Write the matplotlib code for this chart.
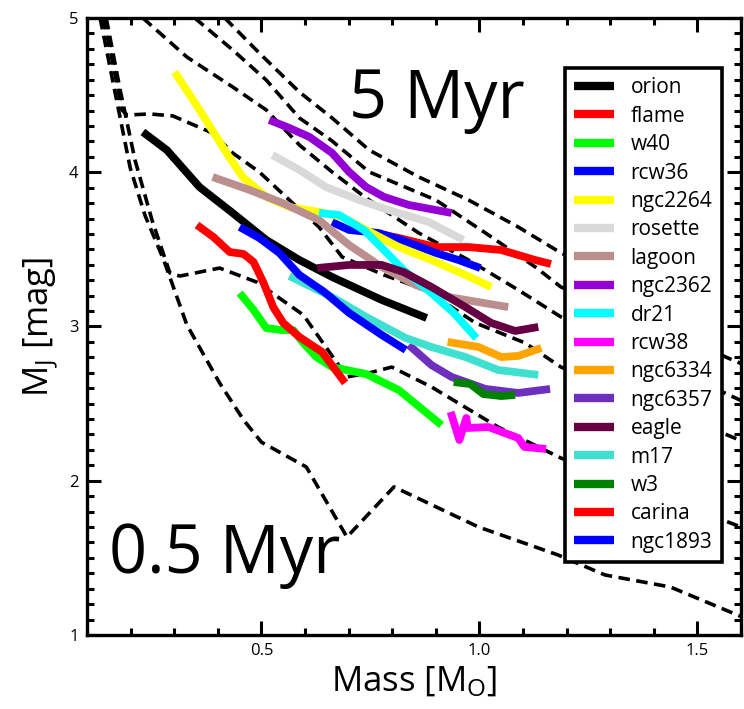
import matplotlib
matplotlib.use("Agg")
import matplotlib.pyplot as plt
from matplotlib.ticker import MultipleLocator

plt.rcParams['font.family'] = ['Open Sans', 'DejaVu Sans']
plt.rcParams['mathtext.fontset'] = 'custom'
plt.rcParams['mathtext.rm'] = 'Open Sans'
plt.rcParams['mathtext.it'] = 'Open Sans'

# ---- isochrones (dashed) ----
iso_a_x = [0.130, 0.153, 0.176, 0.199, 0.233, 0.276, 0.329, 0.404, 0.459, 0.500, 0.541, 0.603, 0.696, 0.804, 0.998, 1.180, 1.288, 1.438, 1.600]
iso_a_y = [5.00, 4.676, 4.352, 4.028, 3.72, 3.43, 3.01, 2.634, 2.394, 2.25, 2.186, 2.089, 1.635, 1.96, 1.70, 1.519, 1.389, 1.311, 1.12]

iso_b_x = [0.137, 0.160, 0.180, 0.192, 0.244, 0.297, 0.388, 0.434, 0.495, 0.564, 0.632, 0.685, 0.781, 0.877, 0.991, 1.105, 1.187, 1.600]
iso_b_y = [5.00, 4.695, 4.404, 4.371, 4.378, 4.365, 4.254, 4.125, 4.002, 3.82, 3.645, 3.451, 3.334, 3.237, 3.023, 2.893, 2.737, 2.26]

iso_c_x = [0.144, 0.176, 0.210, 0.249, 0.290, 0.313, 0.404, 0.489, 0.596, 0.696, 0.747, 0.799, 0.890, 1.043, 1.187, 1.600]
iso_c_y = [5.00, 4.533, 4.079, 3.69, 3.347, 3.327, 3.379, 3.288, 3.075, 2.673, 2.699, 2.737, 2.608, 2.348, 2.147, 1.70]

iso_d_x = [0.228, 0.329, 0.434, 0.511, 0.587, 0.662, 0.740, 0.861, 0.975, 1.089, 1.187, 1.600]
iso_d_y = [5.00, 4.747, 4.553, 4.404, 4.177, 4.002, 3.833, 3.606, 3.431, 3.237, 3.062, 2.52]

iso_e_x = [0.347, 0.434, 0.511, 0.587, 0.662, 0.747, 0.900, 1.014, 1.128, 1.187, 1.600]
iso_e_y = [5.00, 4.793, 4.598, 4.352, 4.203, 4.002, 3.820, 3.606, 3.386, 3.256, 2.76]

iso_f_x = [0.416, 0.495, 0.587, 0.662, 0.747, 0.861, 0.975, 1.089, 1.187, 1.450]
iso_f_y = [5.00, 4.773, 4.520, 4.352, 4.144, 3.969, 3.820, 3.645, 3.477, 3.15]

# ---- cluster sequences ----
orion_x = [0.228, 0.283, 0.358, 0.434, 0.511, 0.587, 0.662, 0.776, 0.879]
orion_y = [4.261, 4.144, 3.904, 3.736, 3.561, 3.431, 3.321, 3.172, 3.055]

flame_x = [0.735, 0.815, 0.900, 0.975, 1.050, 1.128, 1.164]
flame_y = [3.619, 3.574, 3.515, 3.515, 3.496, 3.431, 3.405]

w40_x = [0.450, 0.482, 0.511, 0.546, 0.573, 0.596, 0.626, 0.662, 0.740, 0.815, 0.913]
w40_y = [3.217, 3.107, 2.990, 2.977, 2.977, 2.893, 2.802, 2.737, 2.692, 2.588, 2.361]

rcw36_x = [0.662, 0.701, 0.769, 0.822, 0.900, 0.952, 1.002]
rcw36_y = [3.677, 3.626, 3.606, 3.561, 3.477, 3.431, 3.379]

ngc2264_x = [0.301, 0.358, 0.420, 0.457, 0.511, 0.564, 0.632, 0.685, 0.740, 0.815, 0.890, 0.968, 1.027]
ngc2264_y = [4.650, 4.404, 4.125, 3.969, 3.840, 3.775, 3.742, 3.710, 3.626, 3.515, 3.431, 3.334, 3.256]

rosette_x = [0.525, 0.587, 0.648, 0.724, 0.792, 0.884, 0.963]
rosette_y = [4.112, 4.015, 3.904, 3.820, 3.755, 3.677, 3.561]

lagoon_x = [0.388, 0.473, 0.548, 0.632, 0.701, 0.776, 0.854, 0.929, 1.066]
lagoon_y = [3.969, 3.885, 3.801, 3.690, 3.528, 3.386, 3.269, 3.191, 3.126]

ngc2362_x = [0.518, 0.564, 0.610, 0.662, 0.701, 0.740, 0.781, 0.838, 0.936]
ngc2362_y = [4.339, 4.287, 4.229, 4.125, 4.002, 3.904, 3.840, 3.788, 3.736]

dr21_x = [0.632, 0.678, 0.735, 0.781, 0.826, 0.895, 0.941, 0.993]
dr21_y = [3.736, 3.723, 3.626, 3.496, 3.366, 3.204, 3.088, 2.925]

rcw38_x = [0.934, 0.954, 0.970, 0.973, 1.021, 1.089, 1.103, 1.153]
rcw38_y = [2.446, 2.264, 2.407, 2.342, 2.348, 2.277, 2.219, 2.206]

ngc6334_x = [0.927, 0.998, 1.050, 1.089, 1.142]
ngc6334_y = [2.900, 2.867, 2.802, 2.809, 2.861]

ngc6357_x = [0.838, 0.890, 0.936, 1.014, 1.089, 1.162]
ngc6357_y = [2.880, 2.750, 2.673, 2.595, 2.569, 2.595]

eagle_x = [0.628, 0.701, 0.776, 0.826, 0.890, 0.968, 1.027, 1.082, 1.135]
eagle_y = [3.379, 3.399, 3.399, 3.353, 3.256, 3.126, 3.023, 2.971, 2.997]

m17_x = [0.564, 0.662, 0.740, 0.831, 0.890, 0.968, 1.043, 1.135]
m17_y = [3.327, 3.191, 3.062, 2.925, 2.867, 2.802, 2.718, 2.686]

w3_x = [0.941, 0.979, 1.009, 1.050, 1.082]
w3_y = [2.640, 2.627, 2.562, 2.549, 2.556]

carina_x = [0.352, 0.390, 0.427, 0.459, 0.482, 0.505, 0.527, 0.550, 0.587, 0.639, 0.692]
carina_y = [3.658, 3.580, 3.483, 3.470, 3.418, 3.282, 3.126, 3.023, 2.932, 2.835, 2.634]

ngc1893_x = [0.450, 0.495, 0.541, 0.587, 0.644, 0.701, 0.776, 0.831]
ngc1893_y = [3.645, 3.574, 3.477, 3.334, 3.224, 3.088, 2.945, 2.848]

names = ['orion', 'flame', 'w40', 'rcw36', 'ngc2264', 'rosette', 'lagoon', 'ngc2362',
         'dr21', 'rcw38', 'ngc6334', 'ngc6357', 'eagle', 'm17', 'w3', 'carina', 'ngc1893']
colors = ['#000000', '#ff0000', '#00ff00', '#0000ff', '#ffff00', '#d9d9d9', '#bc8f8f', '#9400d3',
          '#00ffff', '#ff00ff', '#ffa500', '#6e2fbf', '#650043', '#40e0d0', '#008000', '#ff0000', '#0000ff']
series = [(orion_x, orion_y), (flame_x, flame_y), (w40_x, w40_y), (rcw36_x, rcw36_y),
          (ngc2264_x, ngc2264_y), (rosette_x, rosette_y), (lagoon_x, lagoon_y),
          (ngc2362_x, ngc2362_y), (dr21_x, dr21_y), (rcw38_x, rcw38_y), (ngc6334_x, ngc6334_y),
          (ngc6357_x, ngc6357_y), (eagle_x, eagle_y), (m17_x, m17_y), (w3_x, w3_y),
          (carina_x, carina_y), (ngc1893_x, ngc1893_y)]
isochrones = [(iso_a_x, iso_a_y), (iso_b_x, iso_b_y), (iso_c_x, iso_c_y),
              (iso_d_x, iso_d_y), (iso_e_x, iso_e_y), (iso_f_x, iso_f_y)]

fig = plt.figure(figsize=(7.44, 7.09), dpi=100)
ax = fig.add_axes([0.117, 0.1044, 0.879, 0.8702])

for ix, iy in isochrones:
    ax.plot(ix, iy, color='black', lw=2.6, linestyle=(0, (3.2, 1.8)), zorder=2)

for (sx, sy), c, n in zip(series, colors, names):
    ax.plot(sx, sy, color=c, lw=5.6, label=n, solid_capstyle='butt', solid_joinstyle='round', zorder=3)

ax.set_xlim(0.1, 1.6)
ax.set_ylim(1, 5)
ax.xaxis.set_major_locator(MultipleLocator(0.5))
ax.xaxis.set_minor_locator(MultipleLocator(0.1))
ax.yaxis.set_major_locator(MultipleLocator(1))
ax.yaxis.set_minor_locator(MultipleLocator(0.1))
ax.set_xticks([0.5, 1.0, 1.5])
ax.set_xticklabels(['0.5', '1.0', '1.5'])
ax.tick_params(which='both', direction='in', top=True, right=True, width=2.2, labelsize=12, pad=6)
ax.tick_params(which='major', length=10)
ax.tick_params(which='minor', length=5)
for s in ax.spines.values():
    s.set_linewidth(2.4)

ax.set_xlabel(r'Mass [M$_{\mathrm{O}}$]', fontsize=25, labelpad=4)
ax.set_ylabel(r'M$_{\mathrm{J}}$ [mag]', fontsize=25, labelpad=6)

ax.text(0.70, 4.35, '5 Myr', fontsize=48, ha='left', va='baseline')
ax.text(0.151, 1.40, '0.5 Myr', fontsize=48, ha='left', va='baseline')

leg = ax.legend(loc='upper left', bbox_to_anchor=(0.731, 0.919), fontsize=15, frameon=True,
                fancybox=False, edgecolor='black', framealpha=1, handlelength=1.9,
                handletextpad=0.8, labelspacing=0.355, borderpad=0.45, borderaxespad=0)
leg.get_frame().set_linewidth(2.6)
for h in leg.get_lines():
    h.set_linewidth(6)

fig.savefig('out.png', dpi=100)
